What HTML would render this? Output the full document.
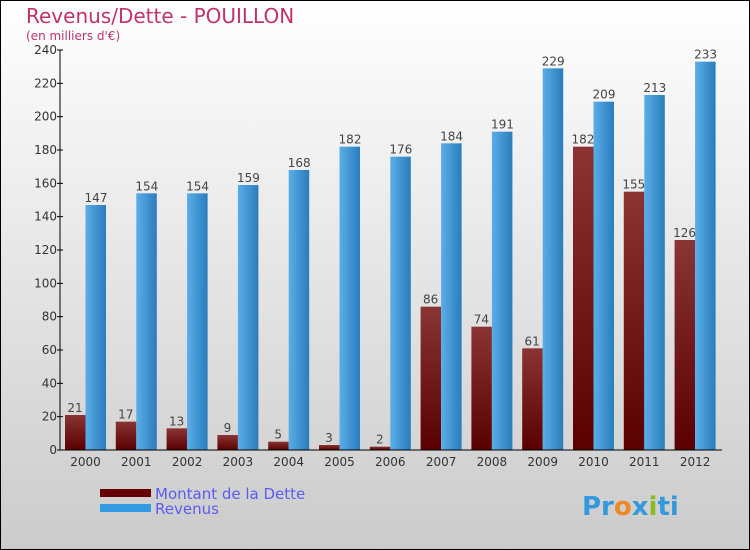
<!DOCTYPE html>
<html><head><meta charset="utf-8"><style>
body{margin:0}
svg{display:block;font-family:"DejaVu Sans","Liberation Sans",sans-serif}
</style></head><body>
<svg id="c" width="750" height="550" xmlns="http://www.w3.org/2000/svg">
<defs>
<linearGradient id="bg" x1="0" y1="0" x2="0" y2="1"><stop offset="0" stop-color="#ffffff"/><stop offset="1" stop-color="#cbcbcb"/></linearGradient>
<linearGradient id="gd" x1="0" y1="0" x2="0" y2="1"><stop offset="0" stop-color="#8a3434"/><stop offset="1" stop-color="#5a0000"/></linearGradient>
<linearGradient id="gr" x1="0" y1="0" x2="1" y2="0"><stop offset="0" stop-color="#5aaee8"/><stop offset="1" stop-color="#2a7cbc"/></linearGradient>
</defs>
<rect x="0.5" y="0.5" width="749" height="549" fill="url(#bg)" stroke="#000"/>
<text x="26" y="23" font-size="20" fill="#c0336a">Revenus/Dette - POUILLON</text>
<text x="26" y="40" font-size="12" fill="#c0336a">(en milliers d'€)</text>
<g id="plot"></g>
<rect x="100" y="489" width="51" height="8" fill="#660000"/>
<rect x="100" y="504" width="51" height="8" fill="#3399e0"/>
<text x="155" y="499" font-size="15" fill="#5b5bf0">Montant de la Dette</text>
<text x="155" y="514" font-size="15" fill="#5b5bf0">Revenus</text>
<text x="582" y="515" font-size="26" font-weight="bold"><tspan fill="#3399dd">Pr</tspan><tspan fill="#ee8822">o</tspan><tspan fill="#3399dd">x</tspan><tspan fill="#88bb22">i</tspan><tspan fill="#3399dd">ti</tspan></text>
</svg>
<script>
const years=["2000","2001","2002","2003","2004","2005","2006","2007","2008","2009","2010","2011","2012"];
const dette=[21,17,13,9,5,3,2,86,74,61,182,155,126];
const revenus=[147,154,154,159,168,182,176,184,191,229,209,213,233];
const yTicks=[0,20,40,60,80,100,120,140,160,180,200,220,240];
const NS="http://www.w3.org/2000/svg";
const g=document.getElementById('plot');
const x0=60,slot=50.8,y0=450,yTop=50,yMax=240;
const y=v=>y0-(v/yMax)*(y0-yTop);
function mk(t,a){const e=document.createElementNS(NS,t);for(const k in a)e.setAttribute(k,a[k]);g.appendChild(e);return e;}
years.forEach((yr,i)=>{
  const sx=x0+i*slot;
  const b1=mk('rect',{x:sx+5,y:y(dette[i]),width:20.5,height:y0-y(dette[i]),fill:'url(#gd)'});
  
  
  const b2=mk('rect',{x:sx+25.5,y:y(revenus[i]),width:20.5,height:y0-y(revenus[i]),fill:'url(#gr)'});
  
  
  const l1=mk('text',{x:sx+15,y:y(dette[i])-3,'font-size':12,fill:'#444','text-anchor':'middle'});
  l1.textContent=dette[i];
  
  
  const l2=mk('text',{x:sx+36,y:y(revenus[i])-3,'font-size':12,fill:'#444','text-anchor':'middle'});
  l2.textContent=revenus[i];
  
  
  const xl=mk('text',{x:sx+25.5,y:466,'font-size':12,fill:'#333','text-anchor':'middle'});
  xl.textContent=yr;
  
  
});
yTicks.forEach(t=>{
  const tk=mk('line',{x1:57,x2:63,y1:y(t),y2:y(t),stroke:'#000'});
  
  
  const tl=mk('text',{x:57,y:y(t)+4,'font-size':12,fill:'#333','text-anchor':'end'});
  tl.textContent=t;
  
  
});
const ya=mk('line',{x1:60,x2:60,y1:yTop,y2:y0,stroke:'#000'});


const xa=mk('line',{x1:60,x2:722,y1:y0,y2:y0,stroke:'#000'});


</script>
</body></html>
